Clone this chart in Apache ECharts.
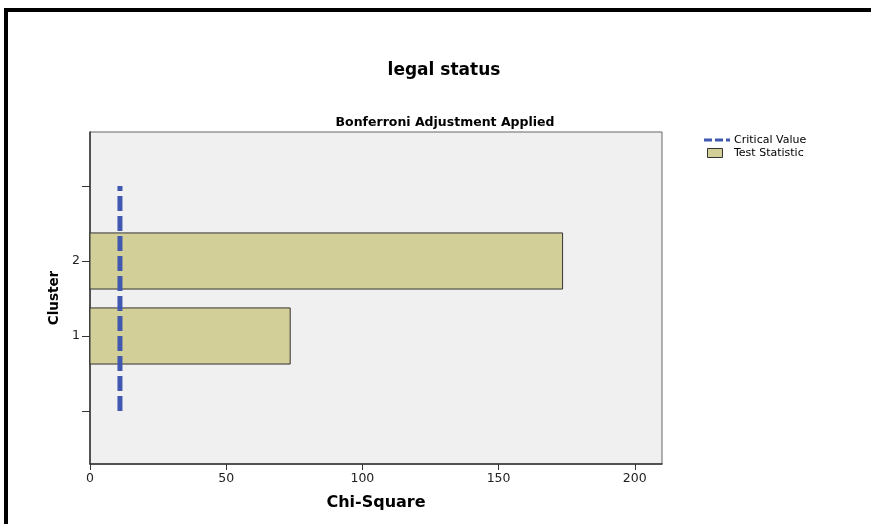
<!DOCTYPE html>
<html>
<head>
<meta charset="utf-8">
<script src="https://cdn.jsdelivr.net/npm/echarts@6/dist/echarts.min.js"></script>
<style>
html,body{margin:0;padding:0;background:#fff;}
#main{width:871px;height:524px;}
</style>
</head>
<body>
<div id="main"></div>
<script>
const clusters = [1, 2];
const testStatistic = [73.5, 173.5];
const criticalValue = 11.0;
const clusterTicks = [0, 1, 2, 3];
const clusterLabels = [1, 2];
const chiTicks = [0, 50, 100, 150, 200];

const FONT = 'DejaVu Sans';
const barFill = '#d3cf99';
const lineBlue = '#4058b0';

const barData = clusters.map((c, i) => [testStatistic[i], c]);
const lineData = [[criticalValue, clusterTicks[0]], [criticalValue, clusterTicks[clusterTicks.length - 1]]];

const chart = echarts.init(document.getElementById('main'), null, {renderer: 'canvas'});
chart.setOption({
  animation: false,
  backgroundColor: '#ffffff',
  textStyle: {fontFamily: FONT},
  title: [
    {text: 'legal status', left: 444, top: 62, textAlign: 'center', padding: 0,
     textStyle: {fontFamily: FONT, fontSize: 17, fontWeight: 'bold', color: '#000'}},
    {text: 'Bonferroni Adjustment Applied', left: 445, top: 116, textAlign: 'center', padding: 0,
     textStyle: {fontFamily: FONT, fontSize: 12.5, fontWeight: 'bold', color: '#000'}}
  ],
  grid: {left: 90, top: 132, width: 572, height: 332, show: true,
         backgroundColor: '#f0f0f0', borderColor: '#666', borderWidth: 1},
  xAxis: {
    type: 'value', min: 0, max: 210, interval: 50,
    name: 'Chi-Square', nameLocation: 'middle', nameGap: 31,
    nameTextStyle: {fontFamily: FONT, fontSize: 16, fontWeight: 'bold', color: '#000'},
    axisLine: {show: true, onZero: false, lineStyle: {color: '#333', width: 1.5}},
    axisTick: {show: true, length: 6, customValues: chiTicks, lineStyle: {color: '#333'}},
    axisLabel: {customValues: chiTicks, fontFamily: FONT, fontSize: 12.5, color: '#222', margin: 8},
    splitLine: {show: false}
  },
  yAxis: {
    type: 'value', min: -0.707, max: 3.72,
    name: 'Cluster', nameLocation: 'middle', nameGap: 28, nameRotate: 90,
    nameTextStyle: {fontFamily: FONT, fontSize: 13.5, fontWeight: 'bold', color: '#000'},
    axisLine: {show: true, onZero: false, lineStyle: {color: '#333', width: 1.5}},
    axisTick: {show: true, length: 8, customValues: clusterTicks, lineStyle: {color: '#333'}},
    axisLabel: {customValues: clusterLabels, fontFamily: FONT, fontSize: 12.5, color: '#222', margin: 10},
    splitLine: {show: false}
  },
  series: [
    {
      name: 'Test Statistic', type: 'custom', data: barData, z: 2,
      encode: {x: 0, y: 1},
      renderItem: function (params, api) {
        const v = api.value(0), c = api.value(1);
        const p0 = api.coord([0, c + 0.374]);
        const p1 = api.coord([v, c - 0.374]);
        return {
          type: 'rect',
          shape: {x: p0[0], y: p0[1], width: p1[0] - p0[0], height: p1[1] - p0[1]},
          style: {fill: barFill, stroke: '#333', lineWidth: 1}
        };
      }
    },
    {
      name: 'Critical Value', type: 'line', data: lineData, z: 3,
      showSymbol: false, symbol: 'none',
      lineStyle: {color: lineBlue, width: 5, type: [15, 5], cap: 'butt'}
    }
  ],
  graphic: [
    {type: 'rect', shape: {x: 6, y: 10, width: 1000, height: 1000},
     style: {fill: 'none', stroke: '#000', lineWidth: 4}, z: 100},
    {type: 'line', shape: {x1: 704, y1: 140, x2: 730, y2: 140},
     style: {stroke: lineBlue, lineWidth: 3, lineDash: [8, 3]}, z: 100},
    {type: 'text', style: {x: 734, y: 140, text: 'Critical Value', fontFamily: FONT, fontSize: 11,
     fill: '#000', textVerticalAlign: 'middle'}, z: 100},
    {type: 'rect', shape: {x: 707.5, y: 148.5, width: 15, height: 9},
     style: {fill: barFill, stroke: '#333', lineWidth: 1}, z: 100},
    {type: 'text', style: {x: 734, y: 153, text: 'Test Statistic', fontFamily: FONT, fontSize: 11,
     fill: '#000', textVerticalAlign: 'middle'}, z: 100}
  ]
});
</script>
</body>
</html>
